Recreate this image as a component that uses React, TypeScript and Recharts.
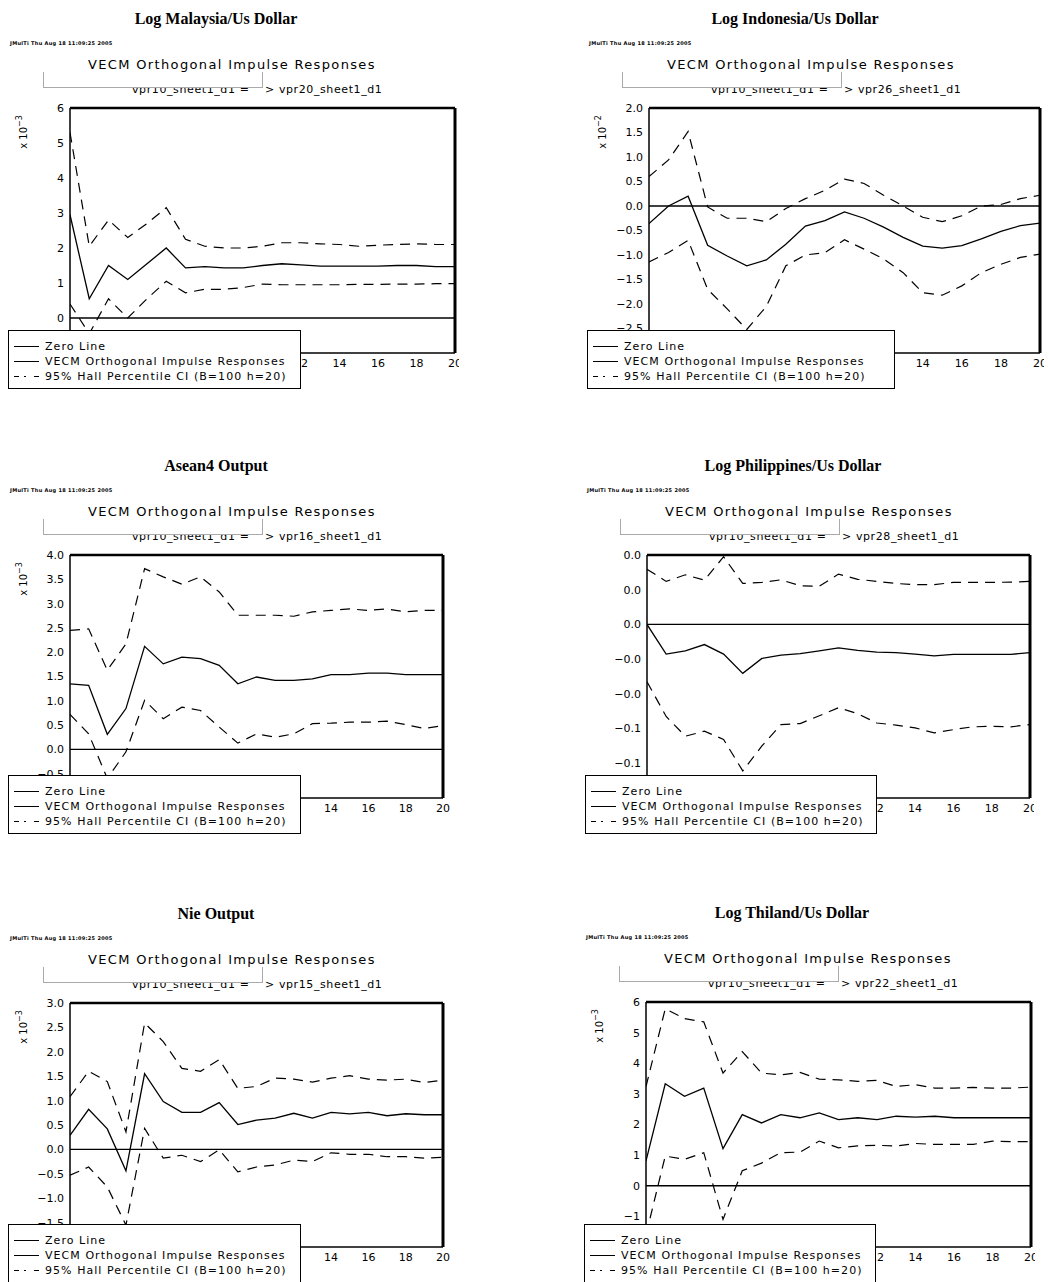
import React from "react";
import { LineChart, Line, XAxis, YAxis, ReferenceLine } from "recharts";

// impulse horizon 0..20
const horizon = [0, 1, 2, 3, 4, 5, 6, 7, 8, 9, 10, 11, 12, 13, 14, 15, 16, 17, 18, 19, 20];
const labelTicks = [12, 14, 16, 18, 20];

const malaysiaIrf = [2.95, 0.55, 1.5, 1.1, 1.55, 2.0, 1.43, 1.47, 1.43, 1.43, 1.5, 1.55, 1.52, 1.48, 1.48, 1.48, 1.48, 1.5, 1.5, 1.47, 1.47];
const malaysiaUpper = [5.3, 2.05, 2.8, 2.3, 2.7, 3.15, 2.25, 2.05, 2.0, 2.0, 2.05, 2.15, 2.15, 2.12, 2.1, 2.05, 2.08, 2.1, 2.12, 2.1, 2.1];
const malaysiaLower = [0.4, -0.45, 0.55, 0.0, 0.55, 1.05, 0.72, 0.82, 0.82, 0.87, 0.97, 0.95, 0.95, 0.95, 0.95, 0.96, 0.96, 0.97, 0.97, 0.98, 0.98];
const malaysiaTicks = [-1, 0, 1, 2, 3, 4, 5, 6];

const indonesiaIrf = [-0.36, 0.0, 0.2, -0.8, -1.02, -1.22, -1.1, -0.78, -0.41, -0.3, -0.12, -0.25, -0.43, -0.64, -0.82, -0.86, -0.81, -0.67, -0.52, -0.4, -0.35];
const indonesiaUpper = [0.6, 0.94, 1.52, -0.02, -0.25, -0.25, -0.32, -0.05, 0.15, 0.32, 0.55, 0.46, 0.22, 0.0, -0.23, -0.32, -0.2, 0.0, 0.03, 0.15, 0.22];
const indonesiaLower = [-1.14, -0.95, -0.7, -1.7, -2.1, -2.52, -2.05, -1.22, -1.0, -0.95, -0.69, -0.88, -1.08, -1.36, -1.77, -1.82, -1.63, -1.36, -1.19, -1.05, -0.98];
const indonesiaTicks = [-3, -2.5, -2, -1.5, -1, -0.5, 0, 0.5, 1, 1.5, 2];

const aseanIrf = [1.35, 1.32, 0.31, 0.84, 2.12, 1.76, 1.9, 1.87, 1.73, 1.35, 1.49, 1.42, 1.42, 1.45, 1.54, 1.54, 1.57, 1.57, 1.54, 1.54, 1.54];
const aseanUpper = [2.45, 2.48, 1.63, 2.17, 3.72, 3.55, 3.4, 3.55, 3.24, 2.76, 2.76, 2.76, 2.74, 2.83, 2.86, 2.89, 2.86, 2.89, 2.83, 2.86, 2.86];
const aseanLower = [0.72, 0.32, -0.6, -0.05, 1.01, 0.63, 0.87, 0.8, 0.46, 0.13, 0.32, 0.25, 0.32, 0.53, 0.54, 0.56, 0.56, 0.58, 0.51, 0.43, 0.49];
const aseanTicks = [-1, -0.5, 0, 0.5, 1, 1.5, 2, 2.5, 3, 3.5, 4];

const philippinesIrf = [0, -0.0171, -0.0152, -0.0116, -0.0171, -0.0282, -0.0196, -0.0177, -0.0168, -0.0152, -0.0135, -0.0149, -0.016, -0.0162, -0.0171, -0.0181, -0.0173, -0.0173, -0.0173, -0.0173, -0.0162];
const philippinesUpper = [0.0318, 0.0248, 0.0286, 0.0255, 0.039, 0.0236, 0.0242, 0.0257, 0.0223, 0.022, 0.029, 0.026, 0.0248, 0.0236, 0.0229, 0.0229, 0.0242, 0.0242, 0.0242, 0.0244, 0.0248];
const philippinesLower = [-0.033, -0.053, -0.0644, -0.0615, -0.0663, -0.0844, -0.07, -0.0577, -0.0571, -0.0526, -0.048, -0.0514, -0.0568, -0.058, -0.0596, -0.0625, -0.0606, -0.059, -0.0587, -0.059, -0.0577];
const philippinesTicks = [-0.1, -0.08, -0.06, -0.04, -0.02, 0, 0.02, 0.04];

const nieIrf = [0.29, 0.82, 0.42, -0.44, 1.55, 0.98, 0.76, 0.76, 0.96, 0.51, 0.6, 0.64, 0.74, 0.64, 0.76, 0.73, 0.76, 0.69, 0.73, 0.71, 0.71];
const nieUpper = [1.08, 1.6, 1.39, 0.36, 2.59, 2.21, 1.66, 1.6, 1.84, 1.25, 1.29, 1.46, 1.44, 1.38, 1.46, 1.51, 1.44, 1.42, 1.44, 1.37, 1.42];
const nieLower = [-0.53, -0.36, -0.77, -1.55, 0.43, -0.18, -0.12, -0.25, -0.01, -0.46, -0.36, -0.32, -0.22, -0.25, -0.07, -0.1, -0.1, -0.15, -0.15, -0.18, -0.16];
const nieTicks = [-2, -1.5, -1, -0.5, 0, 0.5, 1, 1.5, 2, 2.5, 3];

const thailandIrf = [0.81, 3.33, 2.92, 3.19, 1.21, 2.32, 2.05, 2.32, 2.22, 2.38, 2.16, 2.22, 2.16, 2.27, 2.24, 2.27, 2.22, 2.22, 2.22, 2.22, 2.22];
const thailandUpper = [3.24, 5.78, 5.46, 5.35, 3.68, 4.38, 3.68, 3.62, 3.7, 3.48, 3.46, 3.41, 3.44, 3.24, 3.3, 3.19, 3.19, 3.21, 3.19, 3.19, 3.22];
const thailandLower = [-1.6, 0.97, 0.86, 1.08, -1.1, 0.49, 0.74, 1.08, 1.1, 1.46, 1.24, 1.3, 1.32, 1.3, 1.38, 1.35, 1.35, 1.35, 1.46, 1.44, 1.44];
const thailandTicks = [-2, -1, 0, 1, 2, 3, 4, 5, 6];

const intFmt = (v: number) => String(v).replace("-", "\u2212");
const decFmt = (v: number) => v.toFixed(1).replace("-", "\u2212");

const panels = [
  { title: "Log Malaysia/Us Dollar", target: "vpr20_sheet1_d1", exp: "-3", irf: malaysiaIrf, upper: malaysiaUpper, lower: malaysiaLower, ticks: malaysiaTicks, fmt: intFmt, plot: { left: 70, top: 108, width: 385, height: 245 }, legendW: 291, padR: 4 },
  { title: "Log Indonesia/Us Dollar", target: "vpr26_sheet1_d1", exp: "-2", irf: indonesiaIrf, upper: indonesiaUpper, lower: indonesiaLower, ticks: indonesiaTicks, fmt: decFmt, plot: { left: 649, top: 108, width: 391, height: 245 }, legendW: 306, padR: 4 },
  { title: "Asean4 Output", target: "vpr16_sheet1_d1", exp: "-3", irf: aseanIrf, upper: aseanUpper, lower: aseanLower, ticks: aseanTicks, fmt: decFmt, plot: { left: 70, top: 555, width: 373, height: 243 }, legendW: 291, padR: 14 },
  { title: "Log Philippines/Us Dollar", target: "vpr28_sheet1_d1", exp: "", irf: philippinesIrf, upper: philippinesUpper, lower: philippinesLower, ticks: philippinesTicks, fmt: decFmt, plot: { left: 647, top: 555, width: 383, height: 243 }, legendW: 290, padR: 4 },
  { title: "Nie Output", target: "vpr15_sheet1_d1", exp: "-3", irf: nieIrf, upper: nieUpper, lower: nieLower, ticks: nieTicks, fmt: decFmt, plot: { left: 70, top: 1003, width: 373, height: 244 }, legendW: 291, padR: 14 },
  { title: "Log Thiland/Us Dollar", target: "vpr22_sheet1_d1", exp: "-3", irf: thailandIrf, upper: thailandUpper, lower: thailandLower, ticks: thailandTicks, fmt: intFmt, plot: { left: 646, top: 1002, width: 385, height: 245 }, legendW: 290, padR: 4 },
];

const pixelFont = "'DejaVu Sans', sans-serif";
const DASH = "10 7";

function Panel({ cfg }: { cfg: (typeof panels)[number] }) {
  const data = horizon.map((h, i) => ({ h, irf: cfg.irf[i], upper: cfg.upper[i], lower: cfg.lower[i] }));
  const { left: L, top: T, width: W, height: H } = cfg.plot;
  const B = T + H;
  const AXW = 40;
  const MT = 8;
  const MR = cfg.padR;
  const AXH = 22;
  const domain = [cfg.ticks[0], cfg.ticks[cfg.ticks.length - 1]];
  const tickStyle = { fontSize: 11, fill: "#000", fontFamily: pixelFont };

  return (
    <>
      <div style={{ position: "absolute", left: L + 146, top: T - 89, transform: "translate(-50%, -50%)", font: "bold 16px 'Liberation Serif', serif", whiteSpace: "nowrap" }}>
        {cfg.title}
      </div>
      <div style={{ position: "absolute", left: L - 60, top: T - 68, fontSize: 5, fontWeight: "bold", fontFamily: pixelFont, whiteSpace: "nowrap", letterSpacing: 0.3 }}>
        JMulTi Thu Aug 18 11:09:25 2005
      </div>
      <div style={{ position: "absolute", left: L + 18, top: T - 44, transform: "translateY(-50%)", fontSize: 13, fontFamily: pixelFont, letterSpacing: 1.35, whiteSpace: "nowrap" }}>
        VECM Orthogonal Impulse Responses
      </div>
      <div style={{ position: "absolute", left: L + 62, top: T - 19, transform: "translateY(-50%)", fontSize: 11, fontFamily: pixelFont, letterSpacing: 0.6, whiteSpace: "nowrap" }}>
        vpr10_sheet1_d1 =
      </div>
      <div style={{ position: "absolute", left: L - 27, top: T - 36, width: 218, height: 15, background: "#fff", borderLeft: "1px solid #aaa", borderRight: "1px solid #aaa", borderBottom: "1px solid #aaa" }} />
      <div style={{ position: "absolute", left: L + 195, top: T - 19, transform: "translateY(-50%)", fontSize: 11, fontFamily: pixelFont, letterSpacing: 0.6, whiteSpace: "nowrap" }}>
        {"> " + cfg.target}
      </div>
      {cfg.exp && (
        <div style={{ position: "absolute", left: L - 48, top: T + 24, transform: "translate(-50%, -50%) rotate(-90deg)", fontSize: 10, fontFamily: pixelFont, whiteSpace: "nowrap" }}>
          x 10<sup style={{ fontSize: 8 }}>{cfg.exp.replace("-", "\u2212")}</sup>
        </div>
      )}
      <div style={{ position: "absolute", left: L - AXW, top: T - MT }}>
        <LineChart width={AXW + W + MR} height={MT + H + AXH} data={data} margin={{ top: MT, right: MR, bottom: 0, left: 0 }}>
          <XAxis xAxisId="b" dataKey="h" type="number" domain={[0, 20]} ticks={labelTicks} allowDataOverflow height={AXH} tickLine={false} tickSize={4} tickMargin={2} axisLine={{ stroke: "#000", strokeWidth: 1.5 }} tick={tickStyle} interval={0} />
          <XAxis xAxisId="bi" dataKey="h" type="number" domain={[0, 20]} ticks={horizon} allowDataOverflow orientation="bottom" mirror tick={false} tickSize={4} tickLine={{ stroke: "#000" }} axisLine={false} interval={0} />
          <XAxis xAxisId="t" dataKey="h" type="number" domain={[0, 20]} ticks={horizon} allowDataOverflow orientation="top" mirror tick={false} tickSize={4} tickLine={{ stroke: "#000" }} axisLine={{ stroke: "#000", strokeWidth: 2.5 }} interval={0} />
          <YAxis yAxisId="l" type="number" domain={domain} ticks={cfg.ticks} allowDataOverflow width={AXW} tickLine={false} tickSize={4} tickMargin={2} tickFormatter={cfg.fmt} axisLine={{ stroke: "#000", strokeWidth: 1.5 }} tick={tickStyle} interval={0} />
          <YAxis yAxisId="r" type="number" domain={domain} ticks={cfg.ticks} allowDataOverflow orientation="right" mirror tick={false} tickSize={4} tickLine={{ stroke: "#000" }} axisLine={{ stroke: "#000", strokeWidth: 3 }} interval={0} />
          <ReferenceLine xAxisId="b" yAxisId="l" y={0} stroke="#000" strokeWidth={1.3} />
          <Line xAxisId="b" yAxisId="l" type="linear" dataKey="upper" stroke="#000" strokeWidth={1.2} strokeDasharray={DASH} dot={false} isAnimationActive={false} />
          <Line xAxisId="b" yAxisId="l" type="linear" dataKey="lower" stroke="#000" strokeWidth={1.2} strokeDasharray={DASH} dot={false} isAnimationActive={false} />
          <Line xAxisId="b" yAxisId="l" type="linear" dataKey="irf" stroke="#000" strokeWidth={1.3} dot={false} isAnimationActive={false} />
        </LineChart>
      </div>
      <div style={{ position: "absolute", left: L - 62, top: B - 23, width: cfg.legendW, height: 57, border: "1px solid #000", background: "#fff", fontSize: 11, fontFamily: pixelFont, letterSpacing: 1.05, whiteSpace: "nowrap" }}>
        {[
          { label: "Zero Line", dash: undefined },
          { label: "VECM Orthogonal Impulse Responses", dash: undefined },
          { label: "95% Hall Percentile CI (B=100 h=20)", dash: "5 5 2 8" },
        ].map((row, i) => (
          <div key={row.label} style={{ position: "absolute", left: 4, top: 15 + i * 15, transform: "translateY(-50%)", display: "flex", alignItems: "center" }}>
            <svg width={27} height={4} style={{ marginRight: 5 }}>
              <line x1={1} y1={2} x2={26} y2={2} stroke="#000" strokeWidth={1.2} strokeDasharray={row.dash} />
            </svg>
            <span>{row.label}</span>
          </div>
        ))}
      </div>
    </>
  );
}

export default function App() {
  return (
    <div style={{ position: "absolute", left: 0, top: 0, width: 1049, height: 1282, background: "#fff", overflow: "hidden" }}>
      {panels.map((p) => (
        <Panel key={p.title} cfg={p} />
      ))}
    </div>
  );
}
